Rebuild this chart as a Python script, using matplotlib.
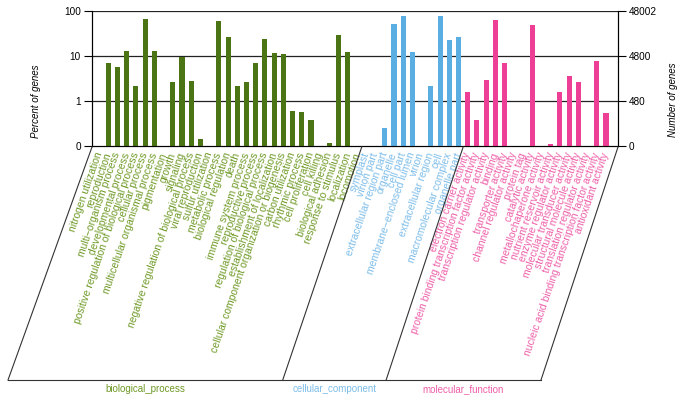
import matplotlib
matplotlib.use("Agg")
import matplotlib.pyplot as plt
from matplotlib.lines import Line2D
import numpy as np

plt.rcParams['font.family'] = ['Liberation Sans', 'DejaVu Sans']

bp_terms = ["nitrogen utilization", "reproduction", "multi\u2212organism process",
            "developmental process", "positive regulation of biological process",
            "cellular process", "multicellular organismal process", "pigmentation",
            "growth", "signaling", "negative regulation of biological process",
            "viral reproduction", "sulfur utilization", "metabolic process",
            "biological regulation", "death", "immune system process",
            "reproductive process", "regulation of biological process",
            "establishment of localization",
            "cellular component organization or biogenesis", "carbon utilization",
            "rhythmic process", "cell proliferation", "cell killing",
            "biological adhesion", "response to stimulus", "localization", "locomotion"]
bp_values = [0, 6.9, 5.8, 12.9, 2.15, 65, 12.9, 0, 2.6, 9.7, 2.8, 0.14, 0, 60, 26,
             2.2, 2.6, 6.9, 23.5, 11.9, 11.1, 0.61, 0.57, 0.38, 0, 0.115, 29.7, 12.5, 0]

cc_terms = ["symplast", "virion part", "extracellular region part", "organelle",
            "cell part", "membrane\u2212enclosed lumen", "virion", "extracellular region",
            "cell", "macromolecular complex", "organelle part"]
cc_values = [0, 0, 0.25, 51, 77, 12.1, 0, 2.2, 77, 22.7, 26]

mf_terms = ["electron carrier activity", "protein binding transcription factor activity",
            "transcription regulator activity", "binding", "transporter activity",
            "channel regulator activity", "protein tag", "catalytic activity",
            "metallochaperone activity", "nutrient reservoir activity",
            "enzyme regulator activity", "molecular transducer activity",
            "structural molecule activity", "translation regulator activity",
            "nucleic acid binding transcription factor activity", "antioxidant activity"]
mf_values = [1.6, 0.37, 2.9, 63, 7.1, 0, 0, 49, 0, 0.11, 1.56, 3.65, 2.7, 0, 7.9, 0.53]

group_names = ["biological_process", "cellular_component", "molecular_function"]
total_genes = 48002

bar_colors = ["#4b7414", "#5aaee2", "#ee3f97"]
text_colors = ["#6f9a26", "#7dbde9", "#ee5fa9"]

W, H = 685, 403
fig = plt.figure(figsize=(W / 100, H / 100), dpi=100)
ax = fig.add_axes([92 / W, 1 - 146 / H, (618 - 92) / W, (146 - 11) / H])

groups = [(bp_terms, bp_values), (cc_terms, cc_values), (mf_terms, mf_values)]
bottom = 0.1
pos = 0
bounds = [-0.76]
label_tr = ax.get_xaxis_transform()
for gi, (terms, vals) in enumerate(groups):
    xs = np.arange(pos, pos + len(terms))
    for x, t, v in zip(xs, terms, vals):
        if v > bottom:
            ax.bar(x, v - bottom, bottom=bottom, width=0.55, color=bar_colors[gi], zorder=3)
        ax.text(x, -0.05, t, rotation=71, rotation_mode='anchor', ha='right', va='center',
                transform=label_tr, fontsize=7.5, color=text_colors[gi], clip_on=False)
    pos += len(terms)
    bounds.append(pos - 0.5)
bounds[-1] = pos - 1 + 1.3

ax.set_yscale('log')
ax.set_ylim(bottom, 100)
ax.set_xlim(bounds[0], bounds[-1])
ax.set_xticks([])
ax.set_yticks([0.1, 1, 10, 100])
ax.set_yticklabels(['0', '1', '10', '100'])
ax.minorticks_off()
ax.tick_params(axis='y', direction='out', length=6, width=0.8, labelsize=7.2, pad=2)
for y in [1, 10, 100]:
    ax.axhline(y, color='#222222', lw=0.9, zorder=2)
for s in ['left', 'right', 'bottom']:
    ax.spines[s].set_linewidth(0.8)
ax.spines['top'].set_visible(False)

ax2 = ax.twinx()
ax2.set_yscale('log')
ax2.set_ylim(total_genes * bottom / 100, total_genes)
ticks = [total_genes * bottom / 100, total_genes / 100, total_genes / 10, total_genes]
ax2.set_yticks(ticks)
ax2.set_yticklabels(['0', str(int(total_genes / 100)), str(int(total_genes / 10)), str(total_genes)])
ax2.minorticks_off()
ax2.tick_params(axis='y', direction='out', length=6, width=0.8, labelsize=7.2, pad=2)
ax2.spines['top'].set_visible(False)
for s in ['left', 'right', 'bottom']:
    ax2.spines[s].set_linewidth(0.8)

fig.text(36 / W, 1 - 101 / H, "Percent of genes", rotation=90, style='italic',
         fontsize=7, ha='center', va='center')
fig.text(673 / W, 1 - 100 / H, "Number of genes", rotation=90, style='italic',
         fontsize=7, ha='center', va='center')

# slanted group dividers (in pixel space)
fig.canvas.draw()
y_top, y_bot = 147, 380
shears = [84, 79, 77, 77]
bx = []
for b, sh in zip(bounds, shears):
    xt = ax.transData.transform((b, 1))[0]
    xb = xt - sh
    bx.append(xb)
    fig.add_artist(Line2D([xt / W, xb / W], [1 - y_top / H, 1 - y_bot / H],
                          transform=fig.transFigure, color='#333333', lw=0.8))
fig.add_artist(Line2D([bx[0] / W, bx[-1] / W], [1 - y_bot / H, 1 - y_bot / H],
                      transform=fig.transFigure, color='#333333', lw=0.8))
for gi, name in enumerate(group_names):
    cx = (bx[gi] + bx[gi + 1]) / 2
    fig.text(cx / W, 1 - 389 / H, name, ha='center', va='center', fontsize=7,
             color=text_colors[gi])

fig.savefig("out.png", dpi=100)
